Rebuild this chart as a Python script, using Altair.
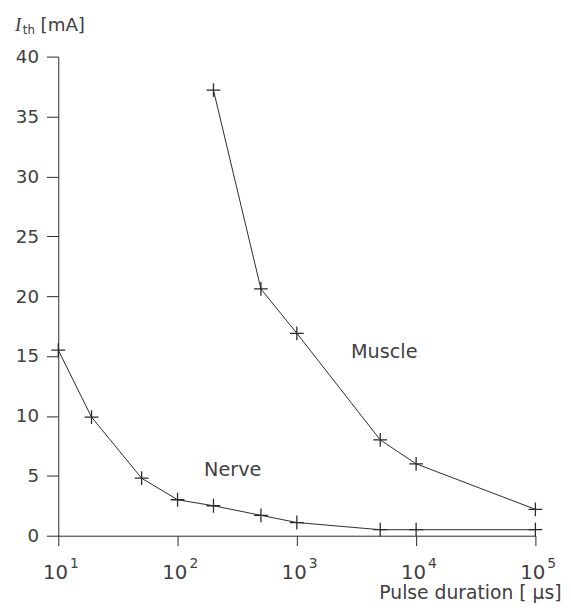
import altair as alt
import pandas as pd

# ---- data ----
nerve_x = [10, 19, 50, 100, 200, 500, 1000, 5000, 10000, 100000]
nerve_y = [15.5, 9.9, 4.8, 3.0, 2.5, 1.7, 1.1, 0.5, 0.5, 0.5]
muscle_x = [200, 500, 1000, 5000, 10000, 100000]
muscle_y = [37.2, 20.6, 16.9, 8.0, 6.0, 2.2]

label_text = ["Muscle", "Nerve"]
label_x = [5400, 290]
label_y = [15.3, 5.5]

x_ticks = [10, 100, 1000, 10000, 100000]
x_bases = ["10", "10", "10", "10", "10"]
x_exponents = ["1", "2", "3", "4", "5"]
y_ticks = [0, 5, 10, 15, 20, 25, 30, 35, 40]

W, H = 484, 486
INK = "#2a2a2a"
TXT = "#404040"
FONT = "DejaVu Sans"

df = pd.DataFrame({
    "duration": nerve_x + muscle_x,
    "current": nerve_y + muscle_y,
    "series": ["Nerve"] * len(nerve_x) + ["Muscle"] * len(muscle_x),
})
labels = pd.DataFrame({"x": label_x, "y": label_y, "t": label_text})
ticklab = pd.DataFrame({"x": x_ticks, "b": x_bases, "e": x_exponents})

xscale = alt.Scale(type="log", domain=[10, 100000], nice=False)
yscale = alt.Scale(domain=[0, 40], nice=False)

xaxis = alt.Axis(
    values=x_ticks, labels=False, tickSize=10, tickColor=INK,
    domainColor=INK, grid=False,
    title="Pulse duration [ µs]", titleFont=FONT, titleFontSize=19,
    titleFontWeight="normal", titleColor=TXT, titleAnchor="end",
    titleAlign="right", titleX=510, titleY=64, titleBaseline="alphabetic",
)
yaxis = alt.Axis(
    values=y_ticks, labelFontSize=18.5, labelFont=FONT, labelColor=TXT,
    labelPadding=8, tickSize=12, tickColor=INK, domainColor=INK,
    grid=False, title=None, labelFlush=False,
)

base = alt.Chart(df)
line = base.mark_line(color=INK, strokeWidth=1).encode(
    x=alt.X("duration:Q", scale=xscale, axis=xaxis),
    y=alt.Y("current:Q", scale=yscale, axis=yaxis),
    detail="series:N",
    order="duration:Q",
)
pts = base.mark_point(
    shape="M-1,0H1M0,-1V1", size=196, filled=False, color=INK,
    strokeWidth=1.3, opacity=1,
).encode(x="duration:Q", y="current:Q")

lab = alt.Chart(labels).mark_text(
    font=FONT, fontSize=19.5, color=TXT, align="center", baseline="middle"
).encode(x="x:Q", y="y:Q", text="t:N")

tb = alt.Chart(ticklab).mark_text(
    font=FONT, fontSize=20, color=TXT, align="right", baseline="alphabetic", dx=10
).encode(x="x:Q", y=alt.value(H + 44), text="b:N")

exp = alt.Chart(ticklab).mark_text(
    font=FONT, fontSize=14, color=TXT, align="left", baseline="alphabetic", dx=12
).encode(x="x:Q", y=alt.value(H + 33), text="e:N")

ti = alt.Chart(pd.DataFrame({"t": ["I"]})).mark_text(
    font="Liberation Serif", fontStyle="italic", fontSize=19, color=TXT,
    align="left", baseline="alphabetic"
).encode(x=alt.value(-44), y=alt.value(-26), text="t:N")
tth = alt.Chart(pd.DataFrame({"t": ["th"]})).mark_text(
    font=FONT, fontSize=12, color=TXT, align="left", baseline="alphabetic"
).encode(x=alt.value(-36), y=alt.value(-23), text="t:N")
tma = alt.Chart(pd.DataFrame({"t": ["[mA]"]})).mark_text(
    font=FONT, fontSize=18.5, color=TXT, align="left", baseline="alphabetic"
).encode(x=alt.value(-18), y=alt.value(-26), text="t:N")

chart = alt.layer(line, pts, lab, tb, exp, ti, tth, tma).properties(
    width=W, height=H,
    background="white",
    autosize=alt.AutoSizeParams(type="none"),
    padding={"left": 51, "top": 45, "right": 28, "bottom": 66},
).configure_view(strokeWidth=0, stroke=None)

chart.save("out.html", embed_options={"renderer": "svg", "actions": False})
